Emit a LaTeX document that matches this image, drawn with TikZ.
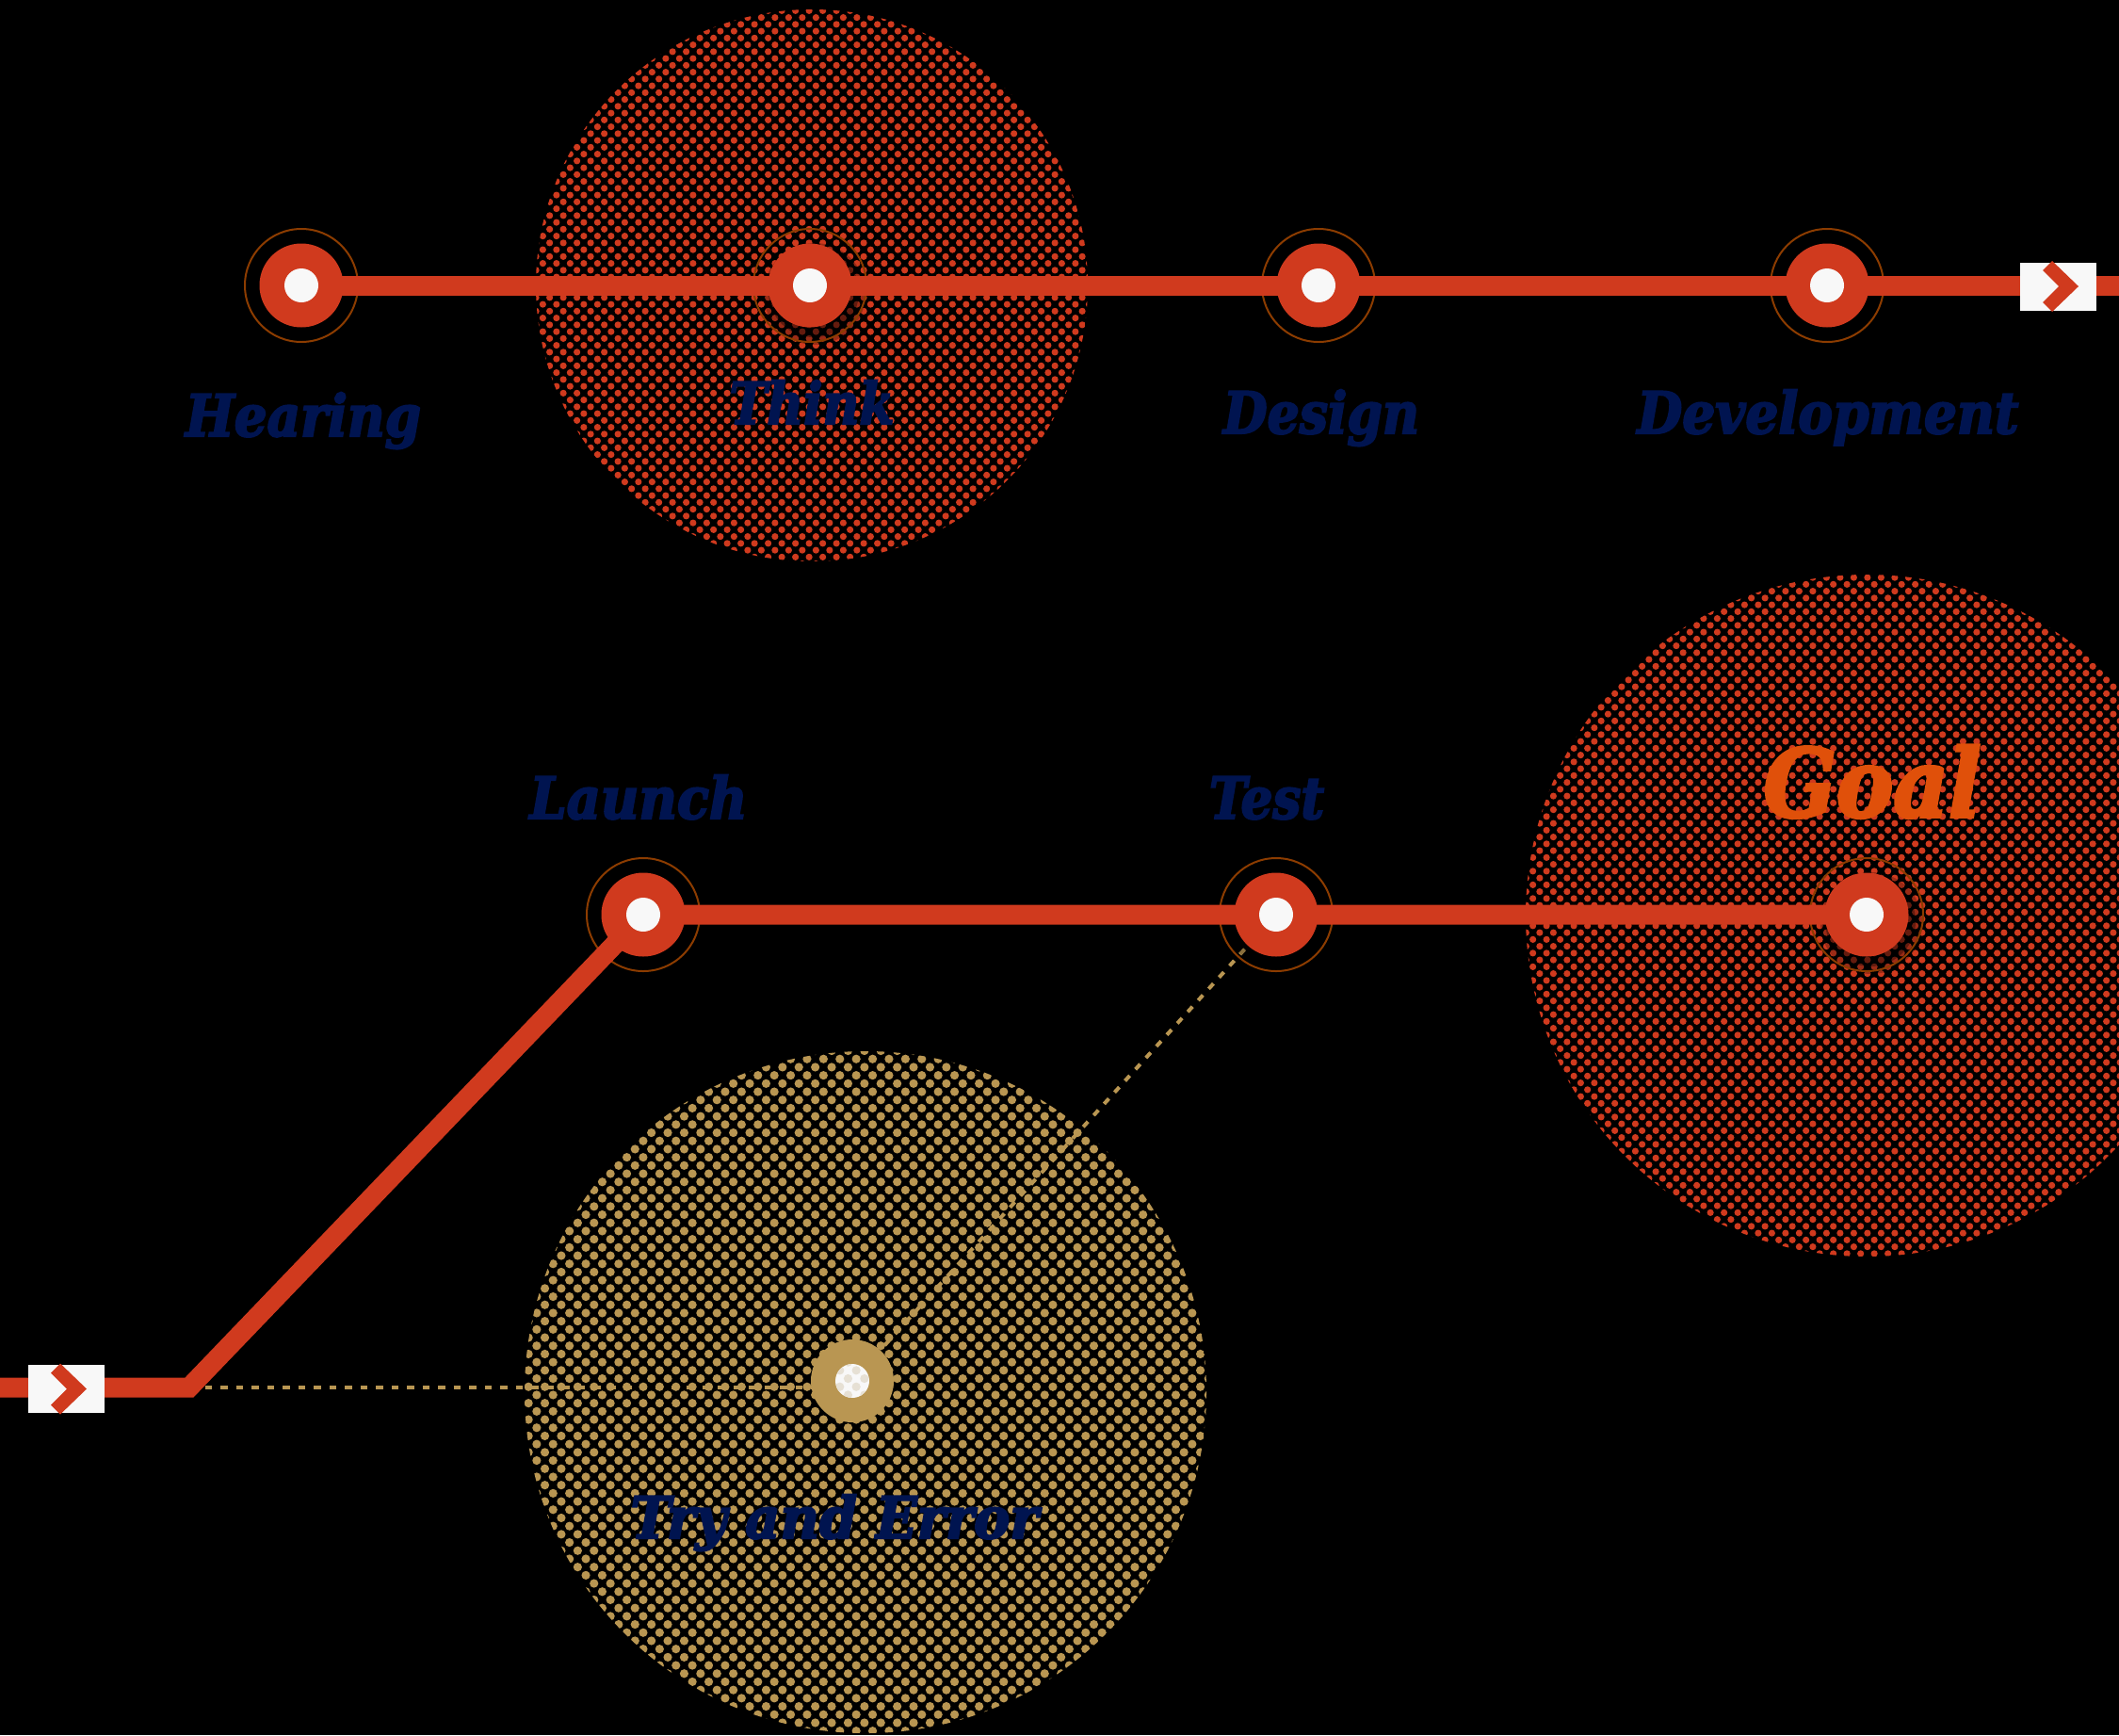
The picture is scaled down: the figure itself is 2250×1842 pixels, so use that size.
\documentclass[tikz,border=0pt]{standalone}
\usepackage{fontspec}
\usepackage{graphicx}
\newfontfamily\lblfam{DejaVu Serif}[BoldItalicFeatures={FakeBold=3.5}]
\usetikzlibrary{patterns.meta}
\definecolor{cred}{HTML}{D03A1E}
\definecolor{ctan}{HTML}{B99652}
\definecolor{cring}{HTML}{8C3C00}
\definecolor{cnavy}{HTML}{001450}
\definecolor{cgoal}{HTML}{E0500A}
\definecolor{cwhite}{HTML}{F8F8F8}
\definecolor{cpale}{HTML}{E6E0D4}
\pgfdeclarepattern{name=dotsR, type=uncolored,
  bottom left={\pgfpoint{-1pt}{-1pt}}, top right={\pgfpoint{15.5pt}{15.5pt}},
  tile size={\pgfpoint{14.5pt}{14.5pt}},
  code={\pgfpathcircle{\pgfpoint{3.625pt}{3.625pt}}{3.6pt}
        \pgfpathcircle{\pgfpoint{10.875pt}{10.875pt}}{3.6pt}\pgfusepath{fill}}}
\pgfdeclarepattern{name=dotsT, type=uncolored,
  bottom left={\pgfpoint{-1pt}{-1pt}}, top right={\pgfpoint{18.4pt}{18.4pt}},
  tile size={\pgfpoint{17.4pt}{17.4pt}},
  code={\pgfpathcircle{\pgfpoint{4.35pt}{4.35pt}}{4.6pt}
        \pgfpathcircle{\pgfpoint{13.05pt}{13.05pt}}{4.6pt}\pgfusepath{fill}}}
\newlength\lblw
\newcommand\fitto[2]{\settowidth{\lblw}{#2}\pgfmathsetmacro\lblr{#1/\lblw}\scalebox{\lblr}[1]{#2}}
\tikzset{
  redline/.style={draw=cred, line width=21pt},
  dashline/.style={draw=ctan, line width=4pt, dash pattern=on 7.5pt off 9pt},
  stopnode/.style={circle, fill=cred, minimum size=89pt, inner sep=0pt},
  trynode/.style={circle, fill=ctan, minimum size=88pt, inner sep=0pt},
  abox/.style={rectangle, fill=cwhite, minimum width=81pt, minimum height=51pt, inner sep=0pt},
  lbl/.style={font=\lblfam\bfseries\itshape\fontsize{61}{70}\selectfont, text=cnavy, anchor=base, inner sep=0pt},
  goallbl/.style={font=\lblfam\bfseries\itshape\fontsize{100}{110}\selectfont, text=cgoal, anchor=base, inner sep=0pt},
  chev/.pic={\fill[cred] (-6.5,-27) -- (21.5,0) -- (-6.5,27) -- (-16.5,17) -- (0.5,0) -- (-16.5,-17) -- cycle;}
}
\begin{document}
\begin{tikzpicture}[x=1pt,y=-1pt]
\fill[black] (0,0) rectangle (2250,1842);
\useasboundingbox (0,0) rectangle (2250,1842);
\clip (0,0) rectangle (2250,1842);
% halftone discs
\fill[pattern=dotsR, pattern color=cred] (862,303) circle (293);
\fill[pattern=dotsR, pattern color=cred] (1982,972) circle (362);
\fill[pattern=dotsT, pattern color=ctan] (919,1478) circle (362);
% coordinates
\coordinate (L0) at (0,1473);
\coordinate (corner) at (201,1473);
\coordinate (R0) at (2250,303);
\coordinate (hearP) at (320,303);
\coordinate (thinkP) at (860,303);
\coordinate (designP) at (1400,303);
\coordinate (devP) at (1940,303);
\coordinate (launchP) at (683,971);
\coordinate (testP) at (1355,971);
\coordinate (goalP) at (1982,971);
\coordinate (tryP) at (905,1466);
% dashed connectors
\draw[dashline] (corner) -- (corner -| tryP);
\draw[dashline] (testP) -- (tryP);
% shadows
\foreach \p in {hearP,thinkP,designP,devP,launchP,testP,goalP}{
  \fill[black,opacity=0.25] ([shift={(5,9)}]\p) circle (54);
  \fill[black,opacity=0.35] ([shift={(4,7)}]\p) circle (48);
}
% rings
\foreach \p in {hearP,thinkP,designP,devP,launchP,testP,goalP}{
  \draw[cring, line width=2pt] (\p) circle (60);
}
% red track
\draw[redline] (hearP) -- (R0);
\draw[redline] (L0) -- (corner) -- (launchP) -- (testP) -- (goalP);
% stop nodes
\node[stopnode] (hear) at (hearP) {};
\node[stopnode] (think) at (thinkP) {};
\node[stopnode] (design) at (designP) {};
\node[stopnode] (dev) at (devP) {};
\node[stopnode] (launch) at (launchP) {};
\node[stopnode] (test) at (testP) {};
\node[stopnode] (goal) at (goalP) {};
\foreach \n in {hear,think,design,dev,launch,test,goal}{
  \fill[cwhite] (\n) circle (18);
}
\node[trynode] (try) at (tryP) {};
\fill[cwhite] (try) circle (18);
\fill[pattern=dotsT, pattern color=cpale] (try) circle (18);
% arrow boxes
\node[abox] (rbox) at (2185.5,304) {};
\pic at (rbox) {chev};
\node[abox] (lbox) at (70.5,1474.5) {};
\pic at (lbox) {chev};
% labels
\node[lbl] (tHear) at (322,463) {\fitto{250}{Hearing}};
\node[lbl] (tThink) at (862,450) {\fitto{175}{Think}};
\node[lbl] (tDesign) at (1403,460) {\fitto{208}{Design}};
\node[lbl] (tDev) at (1941,460) {\fitto{405}{Development}};
\node[lbl] (tLaunch) at (678,869) {\fitto{231}{Launch}};
\node[lbl] (tTest) at (1345,869) {\fitto{122}{Test}};
\node[goallbl] (tGoal) at (1988,867) {\fitto{231}{Goal}};
\node[lbl] (tTry) at (886,1633) {\fitto{433}{Try and Error}};
\end{tikzpicture}
\end{document}
